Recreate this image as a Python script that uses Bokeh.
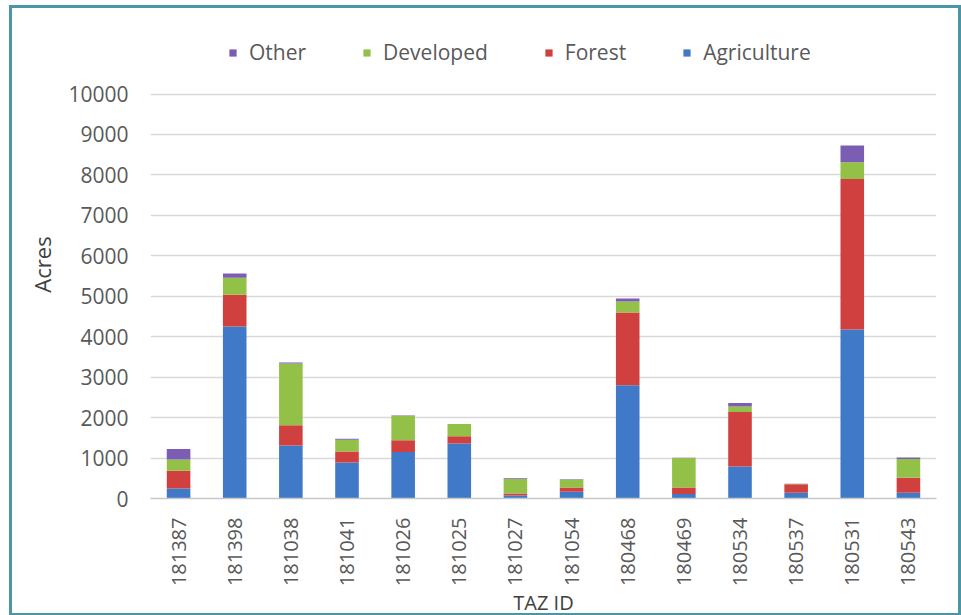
import math
from bokeh.plotting import figure
from bokeh.models import ColumnDataSource, FactorRange, Range1d, Legend, LegendItem, FixedTicker
from bokeh.embed import file_html
from bokeh.resources import INLINE

taz_ids = ["181387", "181398", "181038", "181041", "181026", "181025", "181027",
           "181054", "180468", "180469", "180534", "180537", "180531", "180543"]
agriculture = [250, 4250, 1310, 890, 1150, 1360, 75, 165, 2800, 110, 790, 140, 4180, 140]
forest = [435, 790, 500, 275, 290, 180, 50, 110, 1800, 165, 1350, 210, 3720, 375]
developed = [280, 420, 1525, 290, 600, 300, 360, 190, 270, 725, 135, 10, 415, 460]
other = [260, 105, 30, 25, 10, 5, 15, 10, 75, 5, 85, 5, 415, 40]
y_ticks = [0, 1000, 2000, 3000, 4000, 5000, 6000, 7000, 8000, 9000, 10000]

series = ["Agriculture", "Forest", "Developed", "Other"]
colors = ["#4079c8", "#d0403f", "#93c047", "#7b5db3"]

source = ColumnDataSource(dict(taz=taz_ids, Agriculture=agriculture, Forest=forest,
                               Developed=developed, Other=other))

FONT = "Open Sans"
TXT = "#595959"

# frame extends above the 10000 line to host the legend (top of frame = legend row)
p = figure(width=952, height=611, x_range=FactorRange(*taz_ids, range_padding=0),
           y_range=Range1d(0, 11571), output_backend="svg", toolbar_location=None,
           min_border_left=138, min_border_right=28, min_border_top=22, min_border_bottom=119)
p.styles = {"border": "3px solid #4a96a6", "margin-left": "9px", "margin-top": "5px"}
p.outline_line_color = None
p.background_fill_color = "white"
p.border_fill_color = "white"

renderers = p.vbar_stack(series, x="taz", width=0.42, source=source, color=colors, line_color=None)

legend = Legend(items=[LegendItem(label=s, renderers=[r]) for s, r in zip(series[::-1], renderers[::-1])],
                orientation="horizontal", location=(78, 432), padding=0, margin=0,
                spacing=56, glyph_width=9, glyph_height=9, label_standoff=12,
                label_text_font=FONT, label_text_font_size="21px", label_text_color=TXT,
                border_line_color=None, background_fill_alpha=0)
p.add_layout(legend, "center")

p.xgrid.grid_line_color = None
p.ygrid.grid_line_color = "#d9d9d9"
p.ygrid.grid_line_width = 1.5

p.yaxis.ticker = FixedTicker(ticks=y_ticks)
p.yaxis.axis_line_color = None
p.yaxis.major_tick_line_color = None
p.yaxis.minor_tick_line_color = None
p.yaxis.major_label_standoff = 16
p.yaxis.major_label_text_font = FONT
p.yaxis.major_label_text_font_size = "21px"
p.yaxis.major_label_text_color = TXT
p.yaxis.axis_label = "Acres"
p.yaxis.axis_label_text_font = FONT
p.yaxis.axis_label_text_font_size = "22px"
p.yaxis.axis_label_text_font_style = "normal"
p.yaxis.axis_label_text_color = "#404040"
p.yaxis.axis_label_standoff = 8

p.xaxis.axis_line_color = "#c8c8c8"
p.xaxis.axis_line_width = 1.5
p.xaxis.major_tick_line_color = None
p.xaxis.minor_tick_line_color = None
p.xaxis.major_label_orientation = math.pi / 2
p.xaxis.major_label_standoff = 13
p.xaxis.major_label_text_font = FONT
p.xaxis.major_label_text_font_size = "20px"
p.xaxis.major_label_text_color = TXT
p.xaxis.axis_label = "TAZ ID"
p.xaxis.axis_label_text_font = FONT
p.xaxis.axis_label_text_font_size = "20px"
p.xaxis.axis_label_text_font_style = "normal"
p.xaxis.axis_label_text_color = "#404040"
p.xaxis.axis_label_standoff = 0

open("out.html", "w").write(file_html(p, INLINE))
